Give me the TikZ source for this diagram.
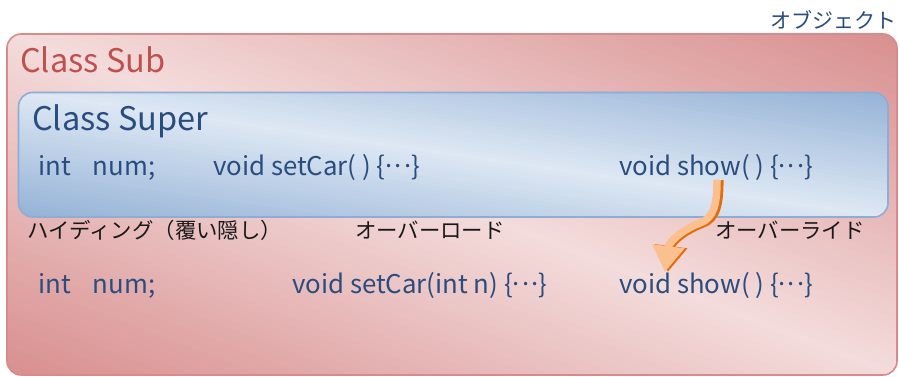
\documentclass[tikz,border=0pt]{standalone}
\usepackage{fontspec}
\setmainfont{Noto Sans CJK JP}
\usetikzlibrary{arrows.meta}
\definecolor{subdark}{RGB}{216,142,142}
\definecolor{sublight}{RGB}{244,220,220}
\definecolor{subborder}{RGB}{217,138,138}
\definecolor{supdark}{RGB}{148,178,214}
\definecolor{suplight}{RGB}{222,232,244}
\definecolor{supborder}{RGB}{143,172,212}
\definecolor{txtblue}{RGB}{42,77,128}
\definecolor{txtred}{RGB}{192,80,77}
\definecolor{arrlight}{RGB}{250,192,144}
\definecolor{arrdark}{RGB}{228,108,10}
\tikzset{
  boxbase/.style={inner sep=0pt, outer sep=0pt, anchor=north west, rounded corners=14pt, line width=1.6pt},
  title/.style={inner sep=0pt, anchor=base west, font=\fontsize{32.5}{34}\selectfont},
  code/.style={inner sep=0pt, anchor=base west, text=txtblue, font=\fontsize{25.8}{27}\selectfont},
  jlabel/.style={inner sep=0pt, anchor=west, text=black!90, font=\fontsize{21.4}{22}\selectfont},
}
\newcommand{\dotsmid}{\{\raisebox{0.28em}{.\kern0.08em.\kern0.08em.}\}}
\begin{document}
\begin{tikzpicture}[x=1pt,y=-1pt]
\useasboundingbox (0,0) rectangle (899,376);
% gradient fill of Class Sub
\begin{scope}
  \clip[rounded corners=14pt] (7,34) rectangle (897,375);
  \foreach \i in {-40,...,40}{
    \pgfmathsetmacro\p{abs(\i)*2.5}
    \fill[subdark!\p!sublight, rotate around={-21:(452,204.5)}]
      (-300,204.5+\i*8-4.6) rectangle (1200,204.5+\i*8+4.6);
  }
\end{scope}
\node[boxbase, draw=subborder, minimum width=890pt, minimum height=341pt] (sub) at (7,34) {};
% gradient fill of Class Super
\begin{scope}
  \clip[rounded corners=14pt] (18.5,92.5) rectangle (888,217);
  \foreach \i in {-31,...,31}{
    \pgfmathsetmacro\p{abs(\i)*100/31}
    \fill[supdark!\p!suplight, rotate around={-8.2:(453.25,154.75)}]
      (-200,154.75+\i*4-2.4) rectangle (1100,154.75+\i*4+2.4);
  }
\end{scope}
\node[boxbase, draw=supborder, minimum width=869.5pt, minimum height=124.5pt] (sup) at (18.5,92.5) {};
\node[inner sep=0pt, anchor=east, text=txtblue, font=\fontsize{21}{22}\selectfont] (obj) at (897,20) {オブジェクト};
\node[title, text=txtred] (subname) at (20,72) {Class Sub};
\node[title, text=txtblue] (supname) at (32,130) {Class Super};
\node[code] (num1) at (38,175) {int\hspace{22pt}num;};
\node[code] (set1) at (213,175) {void setCar( ) \dotsmid};
\node[code] (show1) at (619,175) {void show( ) \dotsmid};
\node[jlabel] (hide) at (27,230) {ハイディング（覆い隠し）};
\node[jlabel] (over) at (355,230) {オーバーロード};
\node[jlabel] (ride) at (715,230) {オーバーライド};
\node[code] (num2) at (38,293) {int\hspace{22pt}num;};
\node[code] (set2) at (292,293) {void setCar(int n) \dotsmid};
\node[code] (show2) at (619,293) {void show( ) \dotsmid};
\coordinate (arrS) at (717,180);
\coordinate (arrM) at (700,223);
\coordinate (arrE) at (665,272);
\draw[arrdark, line width=7.5pt, -{Triangle[length=26pt,width=31pt]}]
  ([xshift=2.8pt]arrS) .. controls +(0,24) and +(14,-5) .. ([xshift=2.8pt,yshift=-1pt]arrM)
  .. controls +(-16,6) and +(4,-31) .. ([xshift=2.8pt]arrE);
\draw[arrlight, line width=7.5pt, -{Triangle[length=26pt,width=31pt]}]
  (arrS) .. controls +(0,24) and +(14,-5) .. (arrM)
  .. controls +(-16,6) and +(4,-31) .. (arrE);
\end{tikzpicture}
\end{document}
